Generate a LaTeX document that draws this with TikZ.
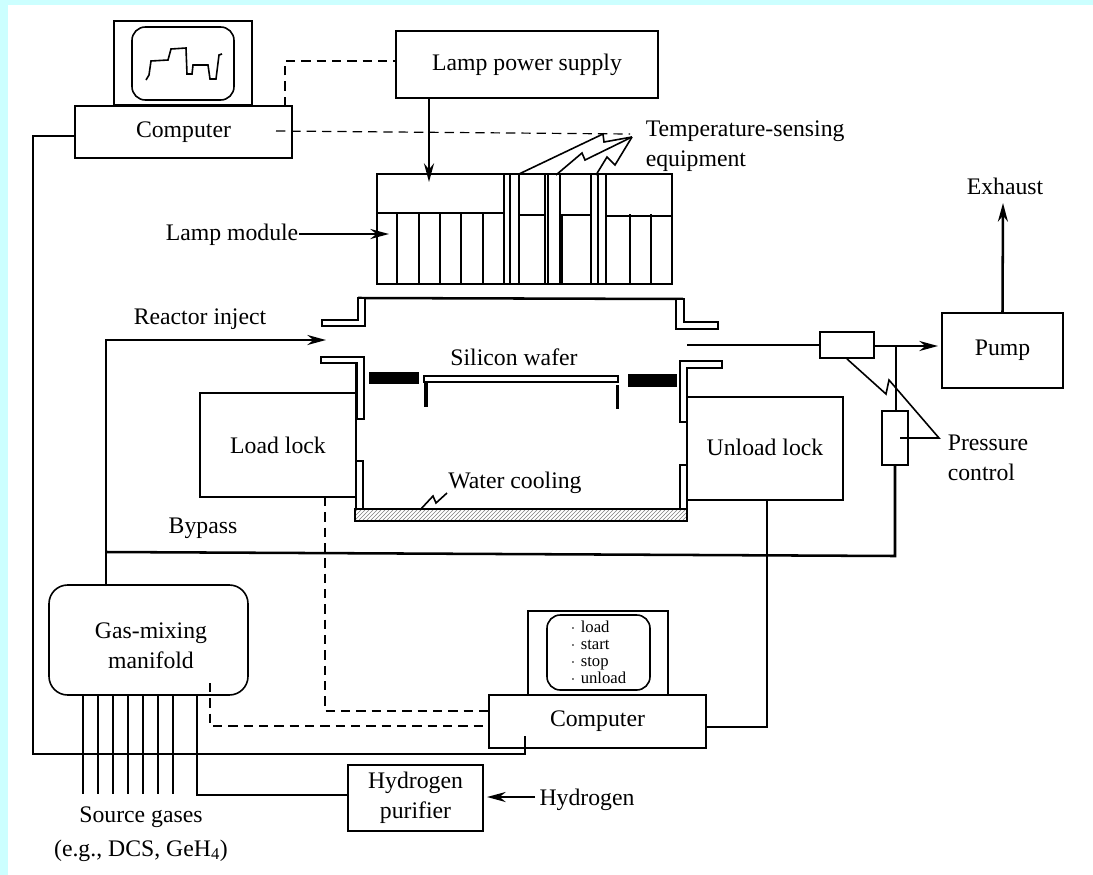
\documentclass[tikz,border=0pt]{standalone}
\usepackage{xcolor}
\usepackage{fontspec}
\setmainfont{Liberation Serif}
\usepackage{tikz}
\usetikzlibrary{arrows.meta, positioning, patterns}
\definecolor{pagecyan}{HTML}{CCFFFF}

\begin{document}
\begin{tikzpicture}[
    x=0.75pt, y=-0.75pt,
    line width=1.2pt,
    box/.style 2 args={rectangle, draw, fill=white, inner sep=0pt, align=center,
                minimum width=#1*0.75pt, minimum height=#2*0.75pt,
                font=\fontsize{17.8}{22.5}\selectfont},
    screen/.style 2 args={rectangle, rounded corners=10pt, draw, inner sep=0pt, align=left,
                minimum width=#1*0.75pt, minimum height=#2*0.75pt},
    lbl/.style={inner sep=0pt, align=center, font=\fontsize{17.8}{22.5}\selectfont},
    arr/.style={-{Stealth[length=14pt, width=7.5pt]}, line width=1.9pt},
    pipe/.style={line width=1.9pt},
    dsh/.style={line width=1.1pt, dash pattern=on 7pt off 4.5pt},
    wall/.style={draw, fill=white, line width=1.2pt},
]

\useasboundingbox (0,0) rectangle (1093,875);
\fill[pagecyan] (0,0) rectangle (1093,875);
\fill[white] (8,5) rectangle (1093,875);

\node[box={217}{52}] (comp1) at (183.5,132) {Computer};
\node[box={138}{84}, line width=1.5pt] (mon1) at (183,63) {};
\node[screen={102}{73}] (scr1) at (183,63.5) {};
\draw (146,80) -- (149,75) -- (151,61) -- (168,60) -- (171,49) -- (186,48) -- (187,74) -- (192,74)
    -- (193,65) -- (208,65) -- (210,79) -- (216,79) -- (219,55) -- (222,54);

\node[box={262}{67}] (lampsup) at (527,64.5) {Lamp power supply};
\node[box={295}{110}, line width=1pt] (lamp) at (524.5,229) {};
\node[lbl] (lamplbl) at (232,235) {Lamp module};
\node[lbl, anchor=west] (temp1) at (645,131) {Temperature-sensing};
\node[lbl, anchor=west] (temp2) at (645,161) {equipment};

\foreach \x in {397,419,440,461,483,562,630,651}
    \draw (\x,214) -- (\x,284);
\foreach \x in {504,510,545,548,560,591,598,606}
    \draw (\x,174) -- (\x,284);
\draw[line width=1.7pt] (519,174) -- (519,284);
\draw (377,213) -- (504,213);
\draw (519,215) -- (545,215);
\draw (562,215) -- (591,215);
\draw (606,216) -- (672,216);

\coordinate (c1top) at (285,106);
\coordinate (lampin) at (396,61);
\coordinate (c1dash) at (276,131);
\coordinate (sense) at (630,134);
\coordinate (tip) at (632,137);
\coordinate (supout) at (429,98);
\coordinate (lampout) at (429,182);
\coordinate (lampin2) at (389,234);
\draw[dsh] (c1top) |- (lampin);
\draw[dsh, line width=0.9pt] (c1dash) -- (sense);
\draw[arr] (supout) -- (lampout);
\draw[arr] (lamplbl.east |- lampin2) -- (lampin2);
\draw (519,174) -- (603,134) -- (604,142) -- (tip);
\draw (556,175) -- (582,153) -- (585,160) -- (tip);
\draw (596,175) -- (607,157) -- (615,165) -- (tip);

\draw[line width=1.9pt] (358,298) -- (683,299);
\draw[wall] (322,320) -- (358,320) -- (358,298) -- (365,298) -- (365,326) -- (322,326) -- cycle;
\draw[wall] (676,299) -- (684,299) -- (684,322) -- (718,322) -- (718,329) -- (676,329) -- cycle;
\draw[wall] (321,357) -- (364,357) -- (364,419) -- (357,419) -- (357,363) -- (321,363) -- cycle;
\draw[wall] (680,361) -- (722,361) -- (722,368) -- (687,368) -- (687,422) -- (680,422) -- cycle;
\draw (356,363) -- (356,509);
\draw (687,368) -- (687,509);
\draw[wall] (356,461) rectangle (363,509);
\draw[wall] (680,465) rectangle (687,509);
\draw[wall, pattern=north east lines, pattern color=gray] (355,509) rectangle (687,521);

\fill (369,372) rectangle (419,384);
\fill (628,374) rectangle (677,387);
\draw[wall] (424,376) rectangle (618,382);
\fill (424,382) rectangle (428,407);
\fill (616,385) rectangle (619,409);
\node[lbl] (wafer) at (514,357) {Silicon wafer};
\node[lbl] (water) at (515,483) {Water cooling};
\coordinate (wbase) at (420,510);
\draw (wbase) -- (433,496) -- (436,503) -- (447,493);

\node[box={156}{103.5}] (load) at (278,445) {Load lock};
\node[box={156}{103}] (unload) at (765,448.5) {\raisebox{2.5pt}{Unload lock}};
\node[box={54}{26}, line width=1.4pt] (valve1) at (847,345) {};
\node[box={26}{54}, line width=1.4pt] (valve2) at (895,438) {};
\node[box={121}{75}, line width=1.4pt] (pump) at (1002.5,350.5) {Pump};
\node[lbl] (exhaust) at (1005,186) {Exhaust};
\node[lbl, anchor=west, align=left] (press) at (947,458) {Pressure\\control};

\node[box={199}{110}, rounded corners=14pt] (mani) at (148.5,640) {};
\node[lbl] (manilbl) at (151,646) {Gas-mixing\\manifold};
\node[lbl] (reactlbl) at (200,319) {Reactor inject};
\node[lbl] (bypasslbl) at (203,528) {Bypass};
\node[lbl] (srclbl) at (141,817) {Source gases};
\node[lbl, below=8pt of srclbl] (srclbl2) {(e.g., DCS, GeH\textsubscript{4})};

\node[box={217}{53}] (comp2) at (597.5,721.5) {Computer};
\node[box={140}{84}, line width=1.5pt] (mon2) at (598,653) {};
\node[screen={103}{75}] (scr2) at (598.5,652.5) {};
\node[inner sep=0pt, align=left, anchor=west, font=\fontsize{12.5}{12.8}\selectfont] (menu) at (580,652.5)
    {{\llap{$\cdot$\,\,}}load\\{\llap{$\cdot$\,\,}}start\\{\llap{$\cdot$\,\,}}stop\\{\llap{$\cdot$\,\,}}unload};
\node[box={135}{66}] (puri) at (415.5,798) {Hydrogen\\purifier};
\node[lbl] (hyd) at (587,800) {Hydrogen};

\coordinate (out) at (687,345);
\coordinate (tee) at (896,346);
\coordinate (pumpin) at (938,346);
\coordinate (reactend) at (326,340);
\coordinate (corner) at (106,340);
\coordinate (split) at (106,552);
\coordinate (bypend) at (895,556);
\draw[pipe] (out) -- (valve1.west);
\draw[arr] (valve1.east |- tee) -- (pumpin);
\draw[pipe] (tee) -- (valve2.north -| tee);
\draw[pipe] (valve2.south) -- (bypend) -- (split);
\draw[arr] (106,586) -- (corner) -- (reactend);
\draw[arr] (pump.north) -- (1003,203);

\coordinate (pc) at (939,438);
\draw (valve1.south) -- (886,394) -- (889,380) -- (pc) -- (900,438);

\coordinate (llout) at (325,497);
\coordinate (c2a) at (489,711);
\coordinate (mdash) at (210,683);
\coordinate (c2b) at (489,726);
\coordinate (ulout) at (767,500);
\coordinate (c2c) at (706,727);
\coordinate (c1west) at (75,136);
\coordinate (c2in) at (525,736);
\coordinate (hin) at (197,696);
\coordinate (hydout) at (535,797);
\coordinate (hydtip) at (487,797);
\draw[dsh] (llout) |- (c2a);
\draw[dsh] (mdash) |- (c2b);
\draw (ulout) |- (c2c);
\draw (c1west) -- (33,136) -- (33,754) -| (c2in);

\foreach \x in {83,98,113,128,143,158,173}
    \draw (\x,695) -- (\x,794);
\draw (hin) |- (puri.west |- 0,795);
\draw[arr] (hydout) -- (hydtip);

\end{tikzpicture}
\end{document}
